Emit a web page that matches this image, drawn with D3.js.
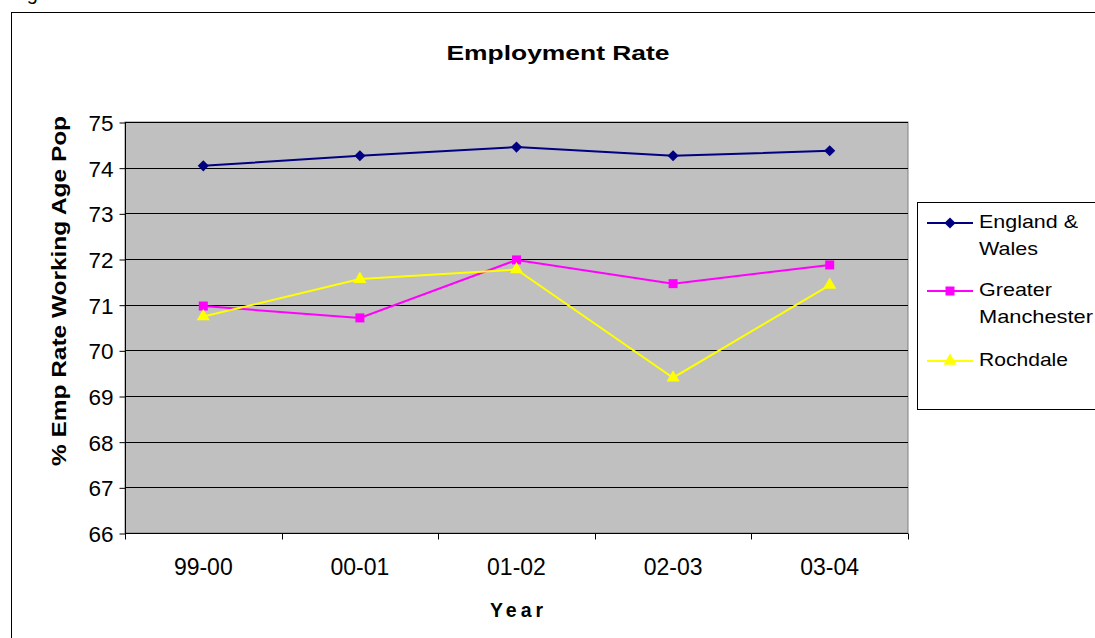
<!DOCTYPE html>
<html>
<head>
<meta charset="utf-8">
<script src="https://cdn.jsdelivr.net/npm/d3@7"></script>
<style>
  body { margin: 0; background: #fff; overflow: hidden; }
  text { font-family: "Liberation Sans", Arial, sans-serif; fill: #000; }
</style>
</head>
<body>
<div id="container"></div>
<script>
/* DATA */
const years = ["99-00", "00-01", "01-02", "02-03", "03-04"];
const englandWales = [74.04, 74.26, 74.45, 74.26, 74.37];
const greaterManchester = [70.97, 70.71, 71.98, 71.46, 71.87];
const rochdale = [70.74, 71.56, 71.77, 69.40, 71.43];
const yTicks = [66, 67, 68, 69, 70, 71, 72, 73, 74, 75];

// diamond = square turned 45deg, so it is as wide as it is tall
const series = [
  { name: ["England &", "Wales"], values: englandWales, color: "#000080", symbol: d3.symbolSquare, size: 62, rotate: 45 },
  { name: ["Greater", "Manchester"], values: greaterManchester, color: "#FF00FF", symbol: d3.symbolSquare, size: 81, rotate: 0 },
  { name: ["Rochdale"], values: rochdale, color: "#FFFF00", symbol: d3.symbolTriangle, size: 75, rotate: 0 }
];

/* CONSTANTS */
const width = 1095, height = 638;
const plot = { left: 125, right: 908, top: 122, bottom: 533 };

const svg = d3.select("#container")
  .append("svg")
  .attr("width", width)
  .attr("height", height);

// caption fragment cut off at the top, as in the source image
svg.append("text")
  .attr("x", 10).attr("y", 0)
  .style("font-size", "20px")
  .text("Figure");

// outer chart frame (runs past the window)
svg.append("rect")
  .attr("x", 11.5).attr("y", 12.5)
  .attr("width", 1200).attr("height", 700)
  .attr("fill", "#fff")
  .attr("stroke", "#000");

// scales
const xScale = d3.scaleBand()
  .domain(years)
  .range([plot.left, plot.right]);

const yScale = d3.scaleLinear()
  .domain([66, 75])
  .range([plot.bottom, plot.top]);

// plot area
svg.append("rect")
  .attr("x", plot.left).attr("y", plot.top)
  .attr("width", plot.right - plot.left)
  .attr("height", plot.bottom - plot.top)
  .attr("fill", "#C0C0C0")
  .attr("stroke", "#808080");

// gridlines
svg.append("g")
  .selectAll("line")
  .data(yTicks.slice(1))
  .join("line")
  .attr("x1", plot.left).attr("x2", plot.right)
  .attr("y1", d => Math.round(yScale(d)) + 0.5)
  .attr("y2", d => Math.round(yScale(d)) + 0.5)
  .attr("stroke", "#000");

// y axis
const yAxis = d3.axisLeft(yScale)
  .tickValues(yTicks)
  .tickSize(6)
  .tickPadding(6);

const yAxisGroup = svg.append("g")
  .attr("transform", `translate(${plot.left + 0.5}, 0.5)`)
  .call(yAxis);
yAxisGroup.select(".domain").attr("stroke", "#000").attr("d", `M0,${plot.top}V${plot.bottom}`);
yAxisGroup.selectAll("text")
  .style("font-size", "22.5px")
  .attr("dy", "0.35em");

// x axis: ticks sit at the category boundaries
const xAxisGroup = svg.append("g")
  .attr("transform", `translate(0, ${plot.bottom + 0.5})`);
xAxisGroup.append("line")
  .attr("x1", plot.left).attr("x2", plot.right)
  .attr("stroke", "#000");
xAxisGroup.selectAll("line.tick")
  .data([...years.map(d => xScale(d)), plot.right])
  .join("line")
  .attr("class", "tick")
  .attr("x1", d => Math.round(d) + 0.5).attr("x2", d => Math.round(d) + 0.5)
  .attr("y1", 0).attr("y2", 6)
  .attr("stroke", "#000");
xAxisGroup.selectAll("text")
  .data(years)
  .join("text")
  .attr("x", d => xScale(d) + xScale.bandwidth() / 2)
  .attr("y", 41)
  .attr("text-anchor", "middle")
  .style("font-size", "23px")
  .text(d => d);

// lines and markers
const line = d3.line()
  .x((d, i) => xScale(years[i]) + xScale.bandwidth() / 2)
  .y(d => yScale(d));

series.forEach(s => {
  svg.append("path")
    .datum(s.values)
    .attr("d", line)
    .attr("fill", "none")
    .attr("stroke", s.color)
    .attr("stroke-width", 2);

  svg.append("g")
    .selectAll("path")
    .data(s.values)
    .join("path")
    .attr("transform", (d, i) => `translate(${xScale(years[i]) + xScale.bandwidth() / 2}, ${yScale(d)}) rotate(${s.rotate})`)
    .attr("d", d3.symbol().type(s.symbol).size(s.size))
    .attr("fill", s.color);
});

// titles
svg.append("text")
  .attr("x", 446.5).attr("y", 60)
  .attr("textLength", 223).attr("lengthAdjust", "spacingAndGlyphs")
  .style("font-size", "21px").style("font-weight", "bold")
  .text("Employment Rate");

svg.append("text")
  .attr("transform", "translate(66, 466) rotate(-90)")
  .attr("textLength", 350).attr("lengthAdjust", "spacingAndGlyphs")
  .style("font-size", "20px").style("font-weight", "bold")
  .text("% Emp Rate Working Age Pop");

svg.append("text")
  .attr("x", 490).attr("y", 617)
  .attr("textLength", 53).attr("lengthAdjust", "spacing")
  .style("font-size", "19.5px").style("font-weight", "bold")
  .text("Year");

// legend
const legend = svg.append("g");
legend.append("rect")
  .attr("x", 917.5).attr("y", 202.5)
  .attr("width", 250).attr("height", 207)
  .attr("fill", "#fff")
  .attr("stroke", "#000");

const legendY = [223, 291, 361];
const legendWidths = [[99, 59], [73, 114], [89]];
series.forEach((s, i) => {
  const g = legend.append("g").attr("transform", `translate(0, ${legendY[i]})`);
  g.append("line")
    .attr("x1", 927).attr("x2", 973)
    .attr("stroke", s.color).attr("stroke-width", 2);
  g.append("path")
    .attr("transform", `translate(950, 0) rotate(${s.rotate})`)
    .attr("d", d3.symbol().type(s.symbol).size(s.size))
    .attr("fill", s.color);
  s.name.forEach((t, j) => {
    g.append("text")
      .attr("x", 979).attr("y", 5 + j * 27)
      .attr("textLength", legendWidths[i][j]).attr("lengthAdjust", "spacingAndGlyphs")
      .style("font-size", "19px")
      .text(t);
  });
});
</script>
</body>
</html>
